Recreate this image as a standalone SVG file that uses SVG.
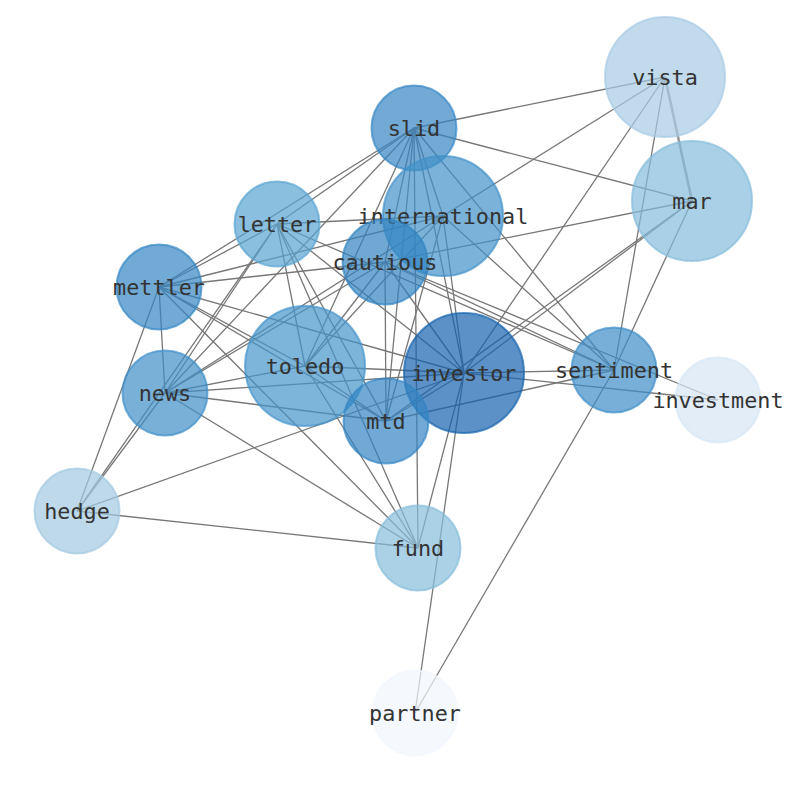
<svg xmlns="http://www.w3.org/2000/svg" width="794" height="790" viewBox="0 0 794 790">
<style>
.e{stroke:#777;stroke-width:1.3;fill:none}
.n circle{stroke-width:2}
.n text{font-family:"DejaVu Sans Mono","Liberation Mono",monospace;font-size:21.8px;fill:#333;text-anchor:middle;dominant-baseline:central}
</style>
<rect width="794" height="790" fill="#fff"/>
<g id="edges">
<line class="e" x1="665" y1="77" x2="414" y2="128"/>
<line class="e" x1="665" y1="77" x2="443" y2="216"/>
<line class="e" x1="665" y1="77" x2="464" y2="373"/>
<line class="e" x1="665" y1="77" x2="614" y2="370"/>
<line class="e" x1="665" y1="77" x2="692" y2="201" style="stroke-width:2.6;stroke:#999"/>
<line class="e" x1="692" y1="201" x2="414" y2="128"/>
<line class="e" x1="692" y1="201" x2="385" y2="262"/>
<line class="e" x1="692" y1="201" x2="464" y2="373"/>
<line class="e" x1="692" y1="201" x2="386" y2="421"/>
<line class="e" x1="692" y1="201" x2="614" y2="370"/>
<line class="e" x1="414" y1="128" x2="277" y2="224"/>
<line class="e" x1="414" y1="128" x2="159" y2="287"/>
<line class="e" x1="414" y1="128" x2="165" y2="393"/>
<line class="e" x1="414" y1="128" x2="385" y2="262"/>
<line class="e" x1="414" y1="128" x2="305" y2="366"/>
<line class="e" x1="414" y1="128" x2="386" y2="421"/>
<line class="e" x1="414" y1="128" x2="464" y2="373"/>
<line class="e" x1="414" y1="128" x2="418" y2="548"/>
<line class="e" x1="414" y1="128" x2="614" y2="370"/>
<line class="e" x1="414" y1="128" x2="443" y2="216"/>
<line class="e" x1="443" y1="216" x2="277" y2="224"/>
<line class="e" x1="443" y1="216" x2="159" y2="287"/>
<line class="e" x1="443" y1="216" x2="305" y2="366"/>
<line class="e" x1="443" y1="216" x2="165" y2="393"/>
<line class="e" x1="443" y1="216" x2="386" y2="421"/>
<line class="e" x1="443" y1="216" x2="464" y2="373"/>
<line class="e" x1="443" y1="216" x2="614" y2="370"/>
<line class="e" x1="277" y1="224" x2="159" y2="287"/>
<line class="e" x1="277" y1="224" x2="305" y2="366"/>
<line class="e" x1="277" y1="224" x2="386" y2="421"/>
<line class="e" x1="277" y1="224" x2="464" y2="373"/>
<line class="e" x1="277" y1="224" x2="418" y2="548"/>
<line class="e" x1="277" y1="224" x2="165" y2="393"/>
<line class="e" x1="277" y1="224" x2="77" y2="511"/>
<line class="e" x1="277" y1="224" x2="614" y2="370"/>
<line class="e" x1="385" y1="262" x2="159" y2="287"/>
<line class="e" x1="385" y1="262" x2="305" y2="366"/>
<line class="e" x1="385" y1="262" x2="165" y2="393"/>
<line class="e" x1="385" y1="262" x2="386" y2="421"/>
<line class="e" x1="385" y1="262" x2="464" y2="373"/>
<line class="e" x1="385" y1="262" x2="614" y2="370"/>
<line class="e" x1="385" y1="262" x2="718" y2="400"/>
<line class="e" x1="159" y1="287" x2="165" y2="393"/>
<line class="e" x1="159" y1="287" x2="77" y2="511"/>
<line class="e" x1="159" y1="287" x2="305" y2="366"/>
<line class="e" x1="159" y1="287" x2="386" y2="421"/>
<line class="e" x1="159" y1="287" x2="464" y2="373"/>
<line class="e" x1="159" y1="287" x2="418" y2="548"/>
<line class="e" x1="305" y1="366" x2="165" y2="393"/>
<line class="e" x1="305" y1="366" x2="386" y2="421"/>
<line class="e" x1="305" y1="366" x2="464" y2="373"/>
<line class="e" x1="305" y1="366" x2="418" y2="548"/>
<line class="e" x1="165" y1="393" x2="386" y2="421"/>
<line class="e" x1="165" y1="393" x2="464" y2="373"/>
<line class="e" x1="165" y1="393" x2="418" y2="548"/>
<line class="e" x1="165" y1="393" x2="77" y2="511"/>
<line class="e" x1="464" y1="373" x2="386" y2="421"/>
<line class="e" x1="464" y1="373" x2="614" y2="370"/>
<line class="e" x1="464" y1="373" x2="718" y2="400"/>
<line class="e" x1="464" y1="373" x2="418" y2="548"/>
<line class="e" x1="464" y1="373" x2="415" y2="713"/>
<line class="e" x1="464" y1="373" x2="77" y2="511"/>
<line class="e" x1="614" y1="370" x2="386" y2="421"/>
<line class="e" x1="614" y1="370" x2="415" y2="713"/>
<line class="e" x1="77" y1="511" x2="418" y2="548"/>
</g>
<g id="vista" class="n"><circle cx="665" cy="77" r="60" fill="#a6cbe4" fill-opacity="0.7" stroke="#a6cbe4" stroke-opacity="0.7"/><text x="665" y="77">vista</text></g>
<g id="mar" class="n"><circle cx="692" cy="201" r="60" fill="#84bcdb" fill-opacity="0.7" stroke="#84bcdb" stroke-opacity="0.7"/><text x="692" y="201">mar</text></g>
<g id="slid" class="n"><circle cx="414" cy="128" r="42.5" fill="#3686c3" fill-opacity="0.7" stroke="#3686c3" stroke-opacity="0.7"/><text x="414" y="128">slid</text></g>
<g id="international" class="n"><circle cx="443" cy="216" r="60" fill="#4192c9" fill-opacity="0.7" stroke="#4192c9" stroke-opacity="0.7"/><text x="443" y="216">international</text></g>
<g id="letter" class="n"><circle cx="277" cy="224" r="42.5" fill="#58a4d1" fill-opacity="0.7" stroke="#58a4d1" stroke-opacity="0.7"/><text x="277" y="224">letter</text></g>
<g id="cautious" class="n"><circle cx="385" cy="262" r="42.5" fill="#3183c0" fill-opacity="0.7" stroke="#3183c0" stroke-opacity="0.7"/><text x="385" y="262">cautious</text></g>
<g id="mettler" class="n"><circle cx="159" cy="287" r="42.5" fill="#3386c3" fill-opacity="0.7" stroke="#3386c3" stroke-opacity="0.7"/><text x="159" y="287">mettler</text></g>
<g id="toledo" class="n"><circle cx="305" cy="366" r="60" fill="#4594ca" fill-opacity="0.7" stroke="#4594ca" stroke-opacity="0.7"/><text x="305" y="366">toledo</text></g>
<g id="investor" class="n"><circle cx="464" cy="373" r="60" fill="#1563ae" fill-opacity="0.7" stroke="#1563ae" stroke-opacity="0.7"/><text x="464" y="373">investor</text></g>
<g id="sentiment" class="n"><circle cx="614" cy="370" r="42.5" fill="#3d8dc7" fill-opacity="0.7" stroke="#3d8dc7" stroke-opacity="0.7"/><text x="614" y="370">sentiment</text></g>
<g id="investment" class="n"><circle cx="718" cy="400" r="42.5" fill="#d6e5f5" fill-opacity="0.7" stroke="#d6e5f5" stroke-opacity="0.7"/><text x="718" y="400">investment</text></g>
<g id="news" class="n"><circle cx="165" cy="393" r="42.5" fill="#3e8ec7" fill-opacity="0.7" stroke="#3e8ec7" stroke-opacity="0.7"/><text x="165" y="393">news</text></g>
<g id="mtd" class="n"><circle cx="386" cy="421" r="42.5" fill="#3384c3" fill-opacity="0.7" stroke="#3384c3" stroke-opacity="0.7"/><text x="386" y="421">mtd</text></g>
<g id="hedge" class="n"><circle cx="77" cy="511" r="42.5" fill="#a2c9e1" fill-opacity="0.7" stroke="#a2c9e1" stroke-opacity="0.7"/><text x="77" y="511">hedge</text></g>
<g id="fund" class="n"><circle cx="418" cy="548" r="42.5" fill="#86bddb" fill-opacity="0.7" stroke="#86bddb" stroke-opacity="0.7"/><text x="418" y="548">fund</text></g>
<g id="partner" class="n"><circle cx="415" cy="713" r="42.5" fill="#f1f6fe" fill-opacity="0.7" stroke="#f1f6fe" stroke-opacity="0.7"/><text x="415" y="713">partner</text></g>
</svg>
